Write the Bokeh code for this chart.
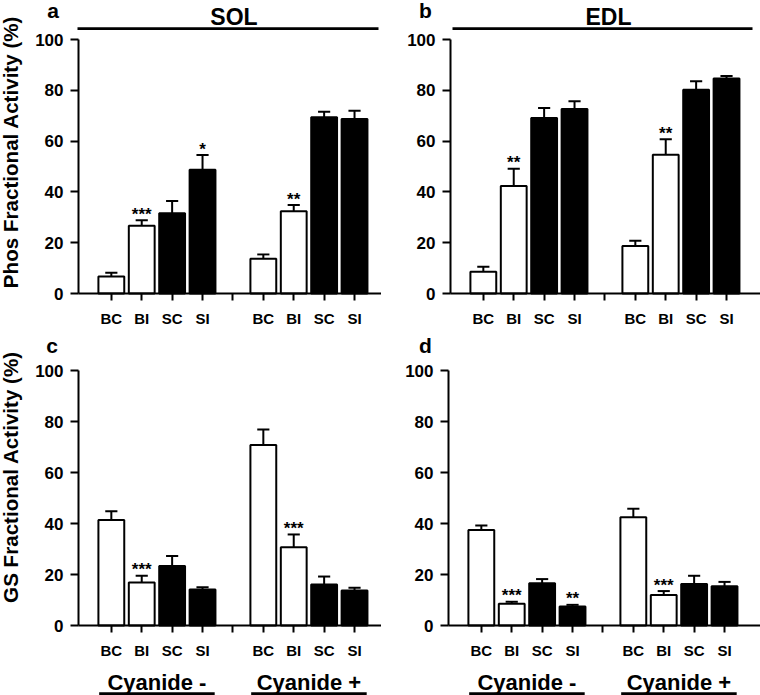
import math
from bokeh.plotting import figure
from bokeh.models import ColumnDataSource, FixedTicker, Label, BoxAnnotation, Range1d
from bokeh.layouts import column, row
from bokeh.embed import file_html
from bokeh.resources import INLINE
from bokeh.core.properties import value

# ---------------- data ----------------
categories = ["BC", "BI", "SC", "SI"]
groups = ["Cyanide -", "Cyanide +"]
bar_fill = ["white", "white", "black", "black"]
y_ticks = [0, 20, 40, 60, 80, 100]

# a: SOL, Phos fractional activity
sol_phos_neg = [6.7, 26.7, 31.6, 48.7]
sol_phos_neg_sem = [1.5, 2.1, 4.8, 5.8]
sol_phos_neg_sig = ["", "***", "", "*"]
sol_phos_pos = [13.7, 32.4, 69.4, 68.7]
sol_phos_pos_sem = [1.7, 2.4, 2.2, 3.2]
sol_phos_pos_sig = ["", "**", "", ""]

# b: EDL, Phos fractional activity
edl_phos_neg = [8.6, 42.3, 69.1, 72.6]
edl_phos_neg_sem = [1.9, 6.8, 3.9, 3.1]
edl_phos_neg_sig = ["", "**", "", ""]
edl_phos_pos = [18.7, 54.6, 80.2, 84.6]
edl_phos_pos_sem = [2.1, 6.1, 3.4, 1.0]
edl_phos_pos_sig = ["", "**", "", ""]

# c: SOL, GS fractional activity
sol_gs_neg = [41.4, 16.9, 23.3, 14.1]
sol_gs_neg_sem = [3.4, 2.6, 4.0, 0.9]
sol_gs_neg_sig = ["", "***", "", ""]
sol_gs_pos = [70.8, 30.7, 16.1, 13.7]
sol_gs_pos_sem = [6.1, 5.0, 3.1, 1.1]
sol_gs_pos_sig = ["", "***", "", ""]

# d: EDL, GS fractional activity
edl_gs_neg = [37.5, 8.5, 16.6, 7.5]
edl_gs_neg_sem = [1.7, 0.8, 1.6, 0.6]
edl_gs_neg_sig = ["", "***", "", "**"]
edl_gs_pos = [42.5, 12.0, 16.3, 15.4]
edl_gs_pos_sem = [3.3, 1.5, 3.2, 1.7]
edl_gs_pos_sig = ["", "***", "", ""]

# ---------------- styling / layout ----------------
FONT = "Liberation Sans"
AXIS_X = -0.08      # data x at which the value axis stands
PX_PER_UNIT = 30.4  # horizontal scale


def make_panel(letter, muscle, ylabel, means, sems, sigs, top,
               W, H, ax_px, y100_px, y0_px, xaxis_end_px, line_px, letter_px,
               ylabel_py=None, group_py=None, underline_py=None):
    n = len(categories)
    xs, ys, ups, fills, stars = [], [], [], [], []
    group_centers = []
    for g in range(len(groups)):
        gx = []
        for i in range(n):
            x = g * (n + 1) + i + 1
            gx.append(x)
            xs.append(x)
            ys.append(means[g][i])
            ups.append(means[g][i] + sems[g][i])
            fills.append(bar_fill[i])
            stars.append(sigs[g][i])
        group_centers.append(sum(gx) / len(gx))
    src = ColumnDataSource(dict(x=xs, y=ys, upper=ups, fill=fills, star=stars,
                                xl=[x - 0.2 for x in xs], xr=[x + 0.2 for x in xs]))

    # ranges so that the frame covers the whole panel
    x0 = AXIS_X - ax_px / PX_PER_UNIT
    x1 = x0 + W / PX_PER_UNIT
    ky = (y0_px - y100_px) / 100.0
    y0 = -(H - y0_px) / ky
    y1 = y0 + H / ky

    def X(px):
        return x0 + px / PX_PER_UNIT

    def Y(py):
        return y1 - py / ky

    p = figure(width=W, height=H, title=None,
               x_range=Range1d(x0, x1), y_range=Range1d(y0, y1),
               output_backend="svg", toolbar_location=None,
               min_border_left=0, min_border_right=0,
               min_border_top=0, min_border_bottom=0)
    p.background_fill_color = "white"
    p.border_fill_color = "white"
    p.outline_line_color = None
    p.xgrid.visible = False
    p.ygrid.visible = False

    p.vbar(x="x", top="y", bottom=0, width=0.85, source=src,
           fill_color="fill", line_color="black", line_width=2)
    p.segment(x0="x", y0="y", x1="x", y1="upper", source=src,
              line_color="black", line_width=2)
    p.segment(x0="xl", y0="upper", x1="xr", y1="upper", source=src,
              line_color="black", line_width=2)
    p.text(x="x", y="upper", text="star", source=src, text_align="center",
           text_baseline="alphabetic", y_offset=-6, text_font=value(FONT),
           text_font_style="bold", text_font_size="17px", text_color="black")

    # x axis (categories)
    tick_pos = list(range(1, len(groups) * (n + 1)))
    overrides = {t: "" for t in tick_pos}
    for k, x in enumerate(xs):
        overrides[x] = categories[k % n]
    xa = p.xaxis[0]
    xa.fixed_location = 0
    xa.bounds = (AXIS_X, X(xaxis_end_px))
    xa.ticker = FixedTicker(ticks=tick_pos)
    xa.major_label_overrides = overrides
    xa.axis_line_width = 2
    xa.axis_line_color = "black"
    xa.major_tick_line_width = 2
    xa.major_tick_out = 7
    xa.major_tick_in = 0
    xa.minor_tick_line_color = None
    xa.major_label_standoff = 9
    xa.major_label_text_font = FONT
    xa.major_label_text_font_style = "bold"
    xa.major_label_text_font_size = "15px"
    xa.major_label_text_color = "black"

    # y axis (values)
    ya = p.yaxis[0]
    ya.fixed_location = AXIS_X
    ya.bounds = (0, 100)
    ya.ticker = FixedTicker(ticks=y_ticks)
    ya.axis_line_width = 2
    ya.axis_line_color = "black"
    ya.major_tick_line_width = 2
    ya.major_tick_out = 8
    ya.major_tick_in = 0
    ya.minor_tick_line_color = None
    ya.major_label_standoff = 7
    ya.major_label_text_font = FONT
    ya.major_label_text_font_style = "bold"
    ya.major_label_text_font_size = "17px"
    ya.major_label_text_color = "black"

    # panel letter (middle of caps)
    p.add_layout(Label(x=X(letter_px[0]), y=Y(letter_px[1]), text=letter,
                       text_align="center", text_baseline="middle",
                       text_font=FONT, text_font_style="bold",
                       text_font_size="21px", text_color="black"))

    if ylabel:
        p.add_layout(Label(x=X(10), y=Y(ylabel_py), text=ylabel,
                           angle=math.pi / 2, text_align="center",
                           text_baseline="middle", text_font=FONT,
                           text_font_style="bold", text_font_size="20.6px",
                           text_color="black"))

    if top:
        p.add_layout(Label(x=X((line_px[0] + line_px[1]) / 2 + 6), y=Y(16.8), text=muscle,
                           text_align="center", text_baseline="middle",
                           text_font=FONT, text_font_style="bold",
                           text_font_size="23px", text_color="black"))
        p.add_layout(BoxAnnotation(left=X(line_px[0]), right=X(line_px[1]),
                                   bottom=Y(29.5), top=Y(26.8),
                                   fill_color="black", fill_alpha=1.0,
                                   line_color=None))
    else:
        for g, c in enumerate(group_centers):
            p.add_layout(Label(x=c, y=Y(group_py), text=groups[g], text_align="center",
                               text_baseline="middle", text_font=FONT,
                               text_font_style="bold", text_font_size="22px",
                               text_color="black"))
            p.add_layout(BoxAnnotation(left=c - 1.9, right=c + 1.9,
                                       bottom=Y(underline_py[1]), top=Y(underline_py[0]),
                                       fill_color="black", fill_alpha=1.0,
                                       line_color=None))
    return p


TOP_H = 335
BOT_H = 360

pa = make_panel("a", "SOL", "Phos Fractional Activity (%)",
                [sol_phos_neg, sol_phos_pos], [sol_phos_neg_sem, sol_phos_pos_sem],
                [sol_phos_neg_sig, sol_phos_pos_sig], True,
                W=381, H=TOP_H, ax_px=78, y100_px=39, y0_px=293,
                xaxis_end_px=381, line_px=(77, 378), letter_px=(52.5, 9.5),
                ylabel_py=151.5)
pb = make_panel("b", "EDL", None,
                [edl_phos_neg, edl_phos_pos], [edl_phos_neg_sem, edl_phos_pos_sem],
                [edl_phos_neg_sig, edl_phos_pos_sig], True,
                W=379, H=TOP_H, ax_px=69, y100_px=39, y0_px=293,
                xaxis_end_px=379, line_px=(71, 371), letter_px=(44, 9.5))
pc = make_panel("c", None, "GS Fractional Activity (%)",
                [sol_gs_neg, sol_gs_pos], [sol_gs_neg_sem, sol_gs_pos_sem],
                [sol_gs_neg_sig, sol_gs_pos_sig], False,
                W=381, H=BOT_H, ax_px=78, y100_px=35, y0_px=290,
                xaxis_end_px=381, line_px=None, letter_px=(51.5, 9.5),
                ylabel_py=141.5, group_py=347, underline_py=(356.8, 359.5))
pd = make_panel("d", None, None,
                [edl_gs_neg, edl_gs_pos], [edl_gs_neg_sem, edl_gs_pos_sem],
                [edl_gs_neg_sig, edl_gs_pos_sig], False,
                W=379, H=BOT_H, ax_px=67, y100_px=35, y0_px=290,
                xaxis_end_px=379, line_px=None, letter_px=(44, 9.5),
                group_py=347, underline_py=(356.8, 359.5))

layout = column(row(pa, pb), row(pc, pd))
open("out.html", "w").write(file_html(layout, INLINE))
